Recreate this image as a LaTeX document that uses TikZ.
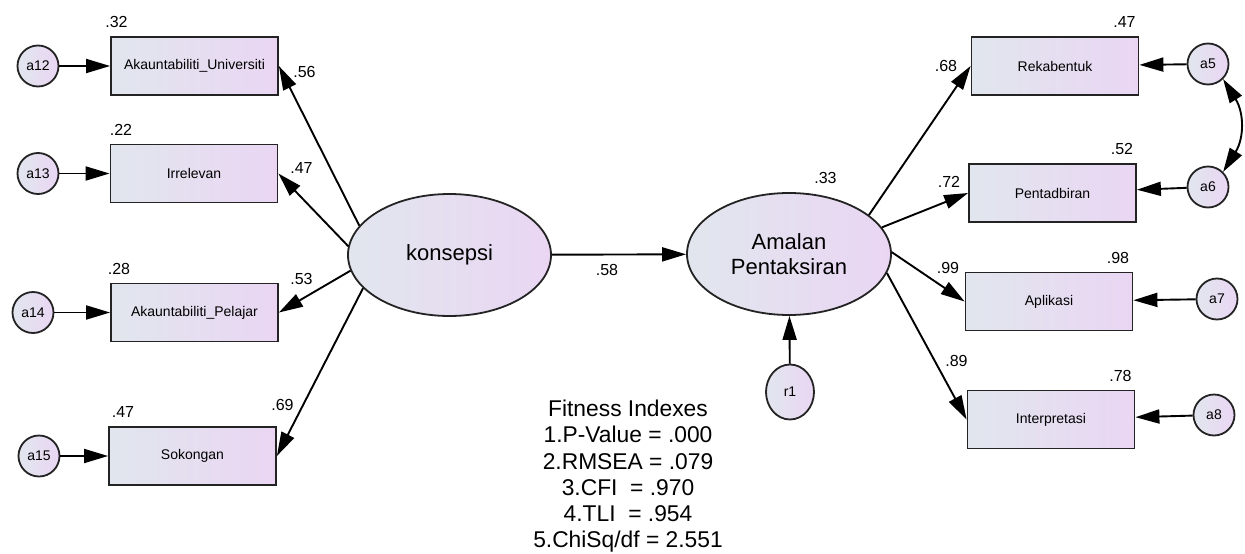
\documentclass[tikz,border=0pt]{standalone}
\usepackage{fontspec}
\setmainfont{Liberation Sans}
\usetikzlibrary{arrows.meta,shapes.geometric}
\definecolor{fillA}{RGB}{225,230,238}
\definecolor{fillB}{RGB}{234,214,243}
\definecolor{edgecol}{RGB}{35,35,35}
\begin{document}
\begin{tikzpicture}[x=1pt,y=-1pt,
 shaded/.style={left color=fillA,right color=fillB,draw=edgecol,line width=1.8pt},
 box/.style={shaded,rectangle,minimum width=167pt,minimum height=58pt,inner sep=0pt,font=\fontsize{14}{16}\selectfont},
 err/.style={shaded,circle,minimum size=41pt,inner sep=0pt,font=\fontsize{14}{16}\selectfont},
 lat/.style={shaded,ellipse,minimum width=203pt,minimum height=122pt,inner sep=0pt,font=\fontsize{22}{25}\selectfont,align=center},
 tip/.tip={Triangle[length=24pt,width=14pt]},
 arr/.style={-tip,line width=1.9pt,draw=black},
 coef/.style={font=\fontsize{16}{18}\selectfont,inner sep=0pt},
]
\useasboundingbox (0,0) rectangle (1245,554);
\fill[white] (0,0) rectangle (1245,554);

% left indicators
\node[box] (b1) at (194.5,66) {Akauntabiliti\_Universiti};
\node[box] (b2) at (194,173.5) {Irrelevan};
\node[box] (b3) at (194.5,312.5) {Akauntabiliti\_Pelajar};
\node[box] (b4) at (192.5,456) {Sokongan};
\node[err] (a12) at (38,66) {a12};
\node[err] (a13) at (38,173.5) {a13};
\node[err] (a14) at (33,312.5) {a14};
\node[err] (a15) at (39,456) {a15};

% latent variables
\node[lat] (K) at (449.5,255) {konsepsi};
\node[lat,minimum width=204pt] (A) at (789,254) {Amalan\\Pentaksiran};
\node[shaded,ellipse,minimum width=48pt,minimum height=55pt,inner sep=0pt,font=\fontsize{14}{16}\selectfont] (r1) at (790,392) {r1};

% right indicators
\node[box] (R) at (1055,66) {Rekabentuk};
\node[box] (P) at (1052.5,193) {Pentadbiran};
\node[box] (Ap) at (1049,301.5) {Aplikasi};
\node[box] (I) at (1051,419.5) {Interpretasi};
\node[err] (a5) at (1208,64) {a5};
\node[err] (a6) at (1208,187) {a6};
\node[err] (a7) at (1217,299) {a7};
\node[err] (a8) at (1214,415) {a8};

% error arrows
\draw[arr] (a12) -- (b1);
\draw[arr] (a13) -- (b2);
\draw[arr] (a14) -- (b3);
\draw[arr] (a15) -- (b4);
\draw[arr] (a5) -- (R);
\draw[arr] (a6) -- (P);
\draw[arr] (a7) -- (Ap);
\draw[arr] (a8) -- (I);
\draw[tip-tip,line width=1.9pt] (a5.-45) to[out=-58,in=58,looseness=1.1] (a6.45);

% loadings
\draw[arr] (K.162) -- (b1.east);
\draw[arr] (K.175.5) -- (b2.east);
\draw[arr] (K.189.5) -- (b3.east);
\draw[arr] (K.201) -- (b4.east);
\draw[arr] (K) -- (A);
\draw[arr] (r1) -- (A);
\draw[arr] (A.26.8) -- (R.west);
\draw[arr] (A.16.6) -- (P.west);
\draw[arr] (A.1) -- (Ap.west);
\draw[arr] (A.-11) -- (I.west);

% coefficients
\node[coef] (l32) at (116.5,22) {.32};
\node[coef] (l22) at (121,130) {.22};
\node[coef] (l28) at (119,268.5) {.28};
\node[coef] (l47a) at (123,411.5) {.47};
\node[coef] (l56) at (304.5,72) {.56};
\node[coef] (l47b) at (301.5,168) {.47};
\node[coef] (l53) at (301.5,278.5) {.53};
\node[coef] (l69) at (282.5,405) {.69};
\node[coef] (l58) at (607,270) {.58};
\node[coef] (l33) at (825.5,178) {.33};
\node[coef] (l68) at (946,66) {.68};
\node[coef] (l72) at (949,182) {.72};
\node[coef] (l99) at (948,267.5) {.99};
\node[coef] (l89) at (956.5,361) {.89};
\node[coef] (l47c) at (1124.5,22) {.47};
\node[coef] (l52) at (1122,148.5) {.52};
\node[coef] (l98) at (1118,257.5) {.98};
\node[coef] (l78) at (1120.5,375.5) {.78};

% fit indices
\node[align=center,font=\fontsize{22.8}{26.2}\selectfont,anchor=north,inner sep=0pt] (fit) at (628,400)
 {Fitness Indexes\\1.P-Value = .000\\2.RMSEA = .079\\3.CFI\ \ = .970\\4.TLI\ \ = .954\\5.ChiSq/df = 2.551};
\end{tikzpicture}
\end{document}
